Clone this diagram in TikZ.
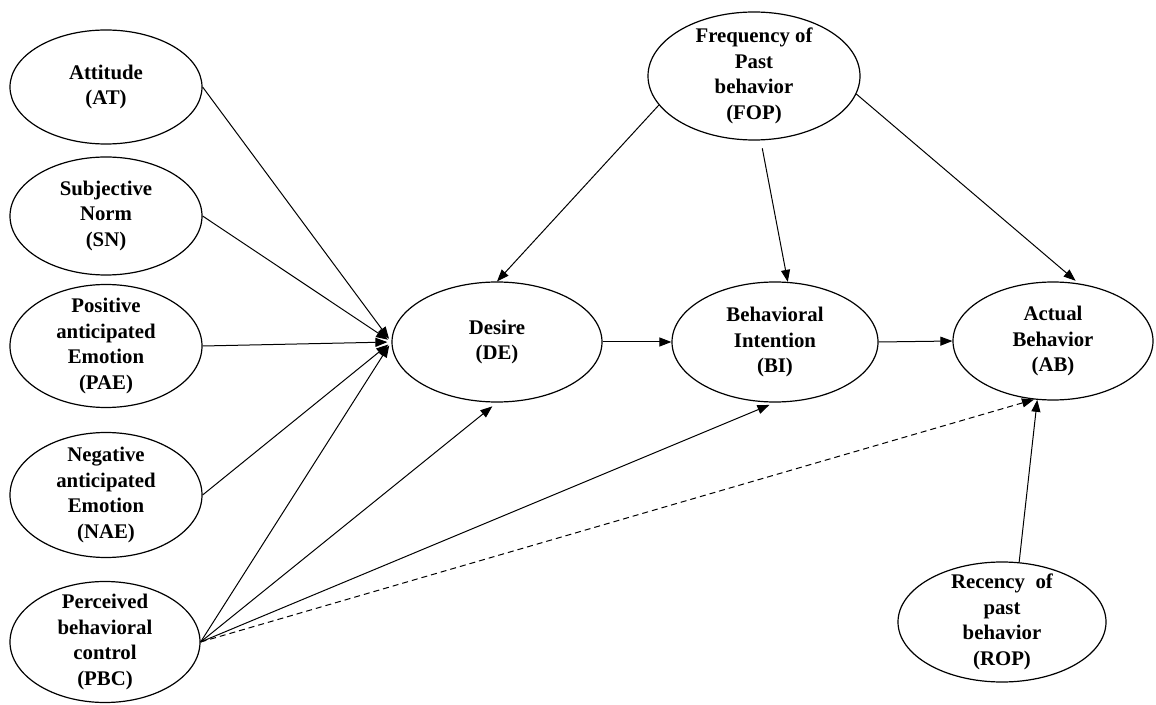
\documentclass[tikz,border=0pt]{standalone}
\usepackage{fontspec}
\setmainfont{Liberation Serif}
\usetikzlibrary{shapes.geometric,arrows.meta}

\begin{document}
\begin{tikzpicture}[x=0.5pt,y=-0.5pt,
		every node/.style={font=\bfseries\fontsize{10.4}{12.8}\selectfont, align=center},
		var/.style={ellipse, draw, line width=0.6pt, inner xsep=0pt, inner ysep=-9pt},
		arr/.style={-{Triangle[length=6pt,width=4.5pt]}, line width=0.5pt}]
			\useasboundingbox (0,0) rectangle (1156,705);
			% Các biến bên trái
			\node[var, minimum width=96pt, minimum height=57pt] (AT) at (106,87) {Attitude\\(AT)};
			\node[var, minimum width=96pt, minimum height=59pt] (SN) at (106,216) {Subjective\\Norm\\(SN)};
			\node[var, minimum width=96pt, minimum height=61.5pt] (PAE) at (106,346) {Positive\\anticipated\\Emotion\\(PAE)};
			\node[var, minimum width=96pt, minimum height=62.5pt] (NAE) at (106,495) {Negative\\anticipated\\Emotion\\(NAE)};
			\node[var, minimum width=95pt, minimum height=60.5pt] (PBC) at (105,642) {Perceived\\behavioral\\control\\(PBC)};
			% Hàng giữa
			\node[var, minimum width=105pt, minimum height=60pt] (DE) at (497,342) {Desire\\(DE)};
			\node[var, minimum width=103pt, minimum height=60pt] (BI) at (775,342) {Behavioral\\Intention\\(BI)};
			\node[var, minimum width=100pt, minimum height=59pt] (AB) at (1053,341) {Actual\\Behavior\\(AB)};
			% Hành vi trong quá khứ
			\node[var, minimum width=106pt, minimum height=64pt] (FOP) at (754,76) {Frequency of\\Past\\behavior\\(FOP)};
			\node[var, minimum width=104pt, minimum height=60pt] (ROP) at (1002,622) {Recency~~of\\past\\behavior\\(ROP)};
			% Vẽ các mũi tên
			\draw[arr, shorten >=2pt] (AT.east) -- (DE.west);
			\draw[arr, shorten >=2pt] (SN.east) -- (DE.west);
			\draw[arr, shorten >=2pt] (PAE.east) -- (DE.west);
			\draw[arr, shorten >=2pt] (NAE.east) -- (DE.west);
			\draw[arr, shorten >=2pt] (PBC.east) -- (DE.west);
			\draw[arr, shorten >=3pt] (PBC.east) -- (DE.south);
			\draw[arr, shorten >=3pt] (PBC.east) -- (BI.south);
			\draw[arr, dash pattern=on 3pt off 2pt] (PBC.east) -- (AB.-108);
			\draw[arr] (DE.east) -- (BI.west);
			\draw[arr] (BI.east) -- (AB.west);
			\draw[arr] (FOP.197) -- (DE.north);
			\draw[arr, shorten <=4pt] (FOP.-84) -- (BI.78);
			\draw[arr, shorten >=2pt] (FOP.-10) -- (AB.66);
			\draw[arr] (ROP.74) -- (AB.-105);
		\end{tikzpicture}
\end{document}
